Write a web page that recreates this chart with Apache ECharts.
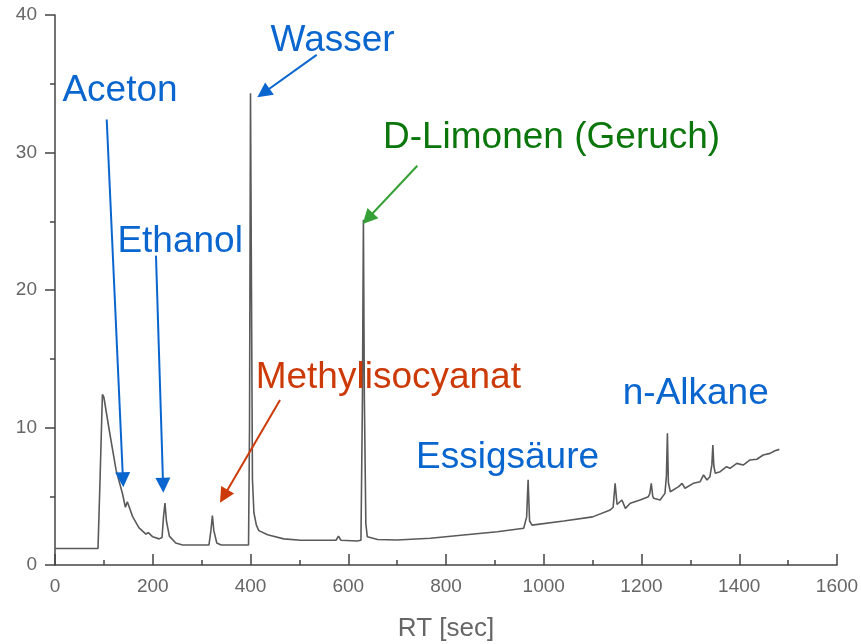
<!DOCTYPE html>
<html>
<head>
<meta charset="utf-8">
<script src="https://cdn.jsdelivr.net/npm/echarts@6/dist/echarts.min.js"></script>
<style>
  html, body { margin: 0; padding: 0; background: #fff; }
  #main { width: 861px; height: 644px; }
</style>
</head>
<body>
<div id="main"></div>
<script>
// retention time (sec) and detector signal
const rtValues = [
  0, 88, 92, 97, 100, 111, 125, 138, 144, 148, 152, 159, 172, 186, 191, 200, 213, 219, 222, 225, 228, 234, 247, 261,
  315, 319, 322, 325, 331, 340, 396, 398, 400, 402, 404, 407, 412, 417, 435, 468, 503, 575, 580, 585, 618, 626, 629, 631,
  633, 636, 639, 660, 700, 768, 836, 905, 959, 965, 968, 971, 976, 1041, 1100, 1136, 1142, 1146, 1150, 1153, 1160,
  1167, 1177, 1197, 1214, 1217, 1220, 1223, 1225, 1238, 1248, 1251, 1253, 1255, 1259, 1276, 1283, 1289, 1306, 1320,
  1327, 1334, 1340, 1344, 1346, 1348, 1351, 1361, 1374, 1381, 1395, 1408, 1422, 1436, 1449, 1463, 1473, 1482
];
const signalValues = [
  1.2, 1.2, 6, 12.4, 12.2, 9.8, 6.9, 5.2, 4.2, 4.6, 4.2, 3.5, 2.7, 2.25, 2.35, 2.05, 1.9, 2.0, 3.5, 4.5, 3.2, 2.1, 1.6, 1.45,
  1.45, 2.5, 3.6, 2.5, 1.6, 1.45, 1.45, 10, 34.3, 20, 6.2, 3.8, 2.9, 2.5, 2.2, 1.9, 1.8, 1.8, 2.1, 1.8, 1.75, 1.8, 12, 25.1,
  12, 3, 2.05, 1.85, 1.82, 1.94, 2.18, 2.42, 2.67, 3.5, 6.2, 3.2, 2.9, 3.2, 3.5, 4.0, 4.2, 5.94, 4.4, 4.36, 4.73,
  4.12, 4.49, 4.73, 4.97, 5.2, 5.94, 5.0, 4.85, 4.73, 5.21, 6.5, 9.58, 6.0, 5.33, 5.7, 5.94, 5.58, 5.94, 6.06,
  6.55, 6.18, 6.42, 7.3, 8.73, 7.2, 6.67, 6.79, 7.15, 7.03, 7.39, 7.27, 7.64, 7.69, 8.0, 8.12, 8.31, 8.41
];

// annotations: label text, where the label sits, and the arrow from -> to (data units)
const labelTexts = ['Aceton', 'Ethanol', 'Methylisocyanat', 'Wasser', 'D-Limonen (Geruch)', 'Essigsäure', 'n-Alkane'];
const labelPos = [[133, 34.5], [256, 23.5], [682, 13.6], [568, 38.1], [1016, 31.05], [926, 7.78], [1311, 12.44]];
const arrowFrom = [[105.8, 32.4], [206.6, 22.5], [460.4, 12.0], [535.4, 37.1], [741.3, 29.04], null, null];
const arrowTo = [[139.1, 6.2], [221.2, 5.8], [345.4, 5.0], [426.4, 34.33], [640, 25.2], null, null];
const textColors = ['#0a66cf', '#0a66cf', '#cc3a08', '#0a66cf', '#0b760b', '#0a66cf', '#0a66cf'];
const arrowColors = ['#0a66cf', '#0a66cf', '#cc3a08', '#0a66cf', '#35a035', null, null];

const FONT = "'Liberation Sans', Arial, sans-serif";

let chart = echarts.init(document.getElementById('main'));

let points = rtValues.map((x, i) => [x, signalValues[i]]);

let arrows = [];
arrowFrom.forEach((a, i) => {
  if (!a) return;
  arrows.push([
    { coord: a, lineStyle: { color: arrowColors[i] }, itemStyle: { color: arrowColors[i] } },
    { coord: arrowTo[i], itemStyle: { color: arrowColors[i] } }
  ]);
});

let labels = labelTexts.map((t, i) => ({
  name: t,
  coord: labelPos[i],
  label: { color: textColors[i] }
}));

let axisText = { color: '#666', fontSize: 19, fontFamily: FONT };

let option = {
  animation: false,
  backgroundColor: '#fff',
  grid: { left: 55, right: 24, top: 15, bottom: 79, outerBoundsMode: 'none', containLabel: false },
  xAxis: {
    type: 'value',
    min: 0,
    max: 1600,
    interval: 200,
    name: 'RT [sec]',
    nameLocation: 'middle',
    nameGap: 51,
    nameTextStyle: { color: '#666', fontSize: 26, fontFamily: FONT },
    axisLine: { lineStyle: { color: '#444', width: 1.5 } },
    axisTick: { inside: true, length: 11, lineStyle: { color: '#444', width: 1.5 } },
    minorTick: { show: true, splitNumber: 2, length: 5, lineStyle: { color: '#444', width: 1.5 } },
    axisLabel: Object.assign({ margin: 12, formatter: v => String(v) }, axisText),
    splitLine: { show: false }
  },
  yAxis: {
    type: 'value',
    min: 0,
    max: 40,
    interval: 10,
    axisLine: { show: true, lineStyle: { color: '#444', width: 1.5 } },
    axisTick: { show: true, length: 10, lineStyle: { color: '#444', width: 1.5 } },
    minorTick: { show: true, splitNumber: 2, length: 5, lineStyle: { color: '#444', width: 1.5 } },
    axisLabel: Object.assign({ margin: 18 }, axisText),
    splitLine: { show: false }
  },
  series: [
    {
      type: 'line',
      data: points,
      showSymbol: false,
      symbol: 'none',
      smooth: false,
      lineStyle: { color: '#5a5a5a', width: 1.6 },
      silent: true,
      markLine: {
        silent: true,
        symbol: ['none', 'triangle'],
        symbolSize: 15,
        label: { show: false },
        lineStyle: { type: 'solid', width: 2 },
        emphasis: { disabled: true },
        data: arrows
      },
      markPoint: {
        silent: true,
        symbol: 'circle',
        symbolSize: 1,
        itemStyle: { color: 'rgba(0,0,0,0)' },
        label: {
          show: true,
          position: 'inside',
          formatter: '{b}',
          fontSize: 37,
          fontFamily: FONT
        },
        data: labels
      }
    }
  ]
};

chart.setOption(option);
</script>
</body>
</html>
